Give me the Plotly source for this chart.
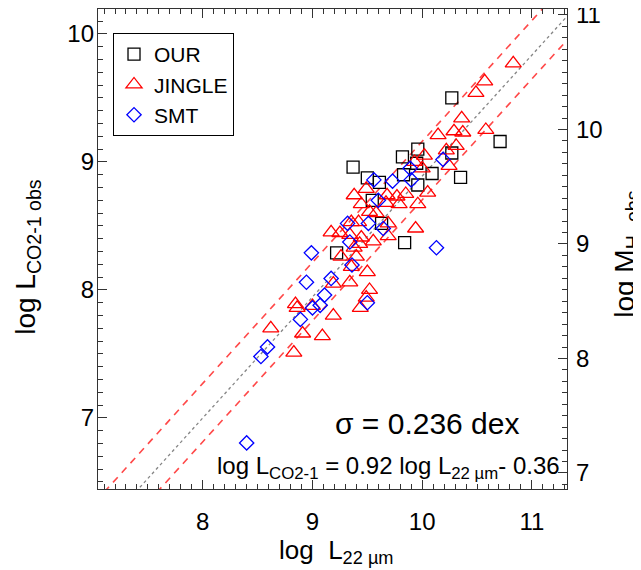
import plotly.graph_objects as go

# ---------------- data ----------------
our_x = [10.27, 10.71, 9.37, 9.82, 9.96, 10.27, 9.95, 9.50, 9.61, 9.83, 10.09, 10.35, 9.96, 9.545, 9.63, 9.84, 9.22]
our_y = [9.50, 9.16, 8.96, 9.04, 9.10, 9.07, 8.99, 8.875, 8.84, 8.90, 8.91, 8.88, 8.82, 8.70, 8.52, 8.37, 8.29]

jingle_x = [10.83, 10.57, 10.49, 10.36, 10.29, 10.37, 10.58, 10.145, 10.31, 10.22, 10.02, 9.93, 10.00, 10.245,
            9.49, 9.38, 9.68, 9.77, 9.85, 10.05, 9.445, 9.67, 9.79, 9.96, 9.52, 9.58, 9.354, 9.42, 9.69, 9.17,
            9.25, 9.34, 9.445, 9.554, 9.69, 9.94, 9.43, 9.38, 9.26, 9.40, 9.354, 9.50, 9.19, 9.34, 9.52, 9.49,
            8.845, 8.86, 9.00, 9.436, 9.19, 8.62, 8.91, 9.09, 8.83]
jingle_y = [9.77, 9.63, 9.54, 9.34, 9.24, 9.23, 9.25, 9.21, 9.125, 9.09, 9.05, 9.00, 8.95, 8.97,
            8.79, 8.74, 8.74, 8.73, 8.75, 8.76, 8.67, 8.68, 8.67, 8.67, 8.61, 8.60, 8.53, 8.53, 8.52, 8.45,
            8.445, 8.43, 8.41, 8.38, 8.42, 8.48, 8.36, 8.33, 8.26, 8.26, 8.18, 8.14, 8.05, 8.06, 8.00, 7.94,
            7.89, 7.86, 7.875, 7.86, 7.80, 7.70, 7.66, 7.64, 7.51]

smt_x = [10.19, 9.56, 9.73, 9.89, 9.90, 9.60, 9.32, 9.51, 9.645, 9.34, 10.13, 8.99, 9.36, 8.945, 9.17,
         9.11, 9.07, 9.00, 8.89, 9.50, 8.59, 8.53, 8.40]
smt_y = [9.02, 8.86, 8.85, 8.95, 8.86, 8.70, 8.52, 8.52, 8.48, 8.375, 8.33, 8.29, 8.195, 8.06, 8.09,
         7.96, 7.88, 7.86, 7.77, 7.90, 7.555, 7.48, 6.805]

# relation lines (as drawn)
fit_slope = 0.945
fit_icpt = -0.56
upper_icpt = -0.29
lower_icpt = -0.746
sigma = 0.236

x_range = [7.045, 11.32]
y_range = [6.445, 10.195]
y2_range = [6.86, 11.052]

FONT = "Liberation Sans, Arial, Helvetica, sans-serif"

fig = go.Figure()

line_x = [x_range[0] - 0.5, x_range[1] + 0.5]
for icpt, col, dash, w in [(fit_icpt, "rgba(120,120,120,0.9)", "dot", 1.3),
                           (upper_icpt, "rgba(255,40,40,0.85)", "7px,6px", 1.6),
                           (lower_icpt, "rgba(255,40,40,0.85)", "7px,6px", 1.6)]:
    fig.add_trace(go.Scatter(x=line_x, y=[fit_slope * v + icpt for v in line_x], mode="lines",
                             line=dict(color=col, dash=dash, width=w), showlegend=False, hoverinfo="skip"))

fig.add_trace(go.Scatter(x=our_x, y=our_y, mode="markers", name="OUR",
                         marker=dict(symbol="square-open", size=12, color="black", line=dict(width=1.3))))
fig.add_trace(go.Scatter(x=jingle_x, y=jingle_y, mode="markers", name="JINGLE",
                         marker=dict(symbol="triangle-up-open", size=14, color="red", line=dict(width=1.3))))
fig.add_trace(go.Scatter(x=smt_x, y=smt_y, mode="markers", name="SMT",
                         marker=dict(symbol="diamond-open", size=11, color="blue", line=dict(width=1.3))))
# dummy trace to activate right axis
fig.add_trace(go.Scatter(x=[None], y=[None], yaxis="y2", showlegend=False, hoverinfo="skip"))

axis_common = dict(showline=True, linecolor="#333", linewidth=1.3, ticks="inside", tickcolor="#333",
                   tickwidth=1.2, ticklen=9, showgrid=False, zeroline=False, automargin=False,
                   ticklabeloverflow="allow",
                   tickfont=dict(family=FONT, size=24, color="black"),
                   minor=dict(ticks="inside", ticklen=5, dtick=0.1, tickcolor="#333", tickwidth=1, showgrid=False))

# page body adds an 8px offset; margins compensate so the plot area lands where the reference has it
fig.update_layout(
    width=641, height=570,
    margin=dict(l=90, r=82, t=1, b=89),
    paper_bgcolor="white", plot_bgcolor="white",
    font=dict(family=FONT, color="black"),
    xaxis=dict(range=x_range, dtick=1, tick0=0, mirror="ticks", ticklabelstandoff=11, **axis_common),
    yaxis=dict(range=y_range, dtick=1, tick0=0, ticklabelstandoff=-2, **axis_common),
    yaxis2=dict(range=y2_range, dtick=1, tick0=0, overlaying="y", side="right", ticklabelstandoff=3,
                **axis_common),
    legend=dict(x=0.032, y=0.95, xanchor="left", yanchor="top", bordercolor="black", borderwidth=1,
                bgcolor="white", font=dict(family=FONT, size=21), tracegroupgap=0, entrywidth=88),
    showlegend=True,
)

# axis titles
fig.add_annotation(x=0.5075, y=-0.131, xref="paper", yref="paper", text="log  L<sub>22 µm</sub>",
                   showarrow=False, font=dict(size=26, family=FONT), xanchor="center", yanchor="middle")
fig.add_annotation(x=-0.15, y=0.483, xref="paper", yref="paper", text="log L<sub>CO2-1 obs</sub>",
                   textangle=-90, showarrow=False, font=dict(size=28, family=FONT),
                   xanchor="center", yanchor="middle")
fig.add_annotation(x=1.13, y=0.49, xref="paper", yref="paper", text="log M<sub>H<sub>2</sub> obs</sub>",
                   textangle=-90, showarrow=False, font=dict(size=28, family=FONT),
                   xanchor="center", yanchor="middle")

fig.add_annotation(x=10.045, y=6.96, xref="x", yref="y", text="σ = %.3f dex" % sigma, showarrow=False,
                   font=dict(size=30, family=FONT), xanchor="center", yanchor="middle")
fig.add_annotation(x=11.27, y=6.61, xref="x", yref="y",
                   text="log L<sub>CO2-1</sub> = 0.92 log L<sub>22 µm</sub>- 0.36", showarrow=False,
                   font=dict(size=24, family=FONT), xanchor="right", yanchor="middle")

fig.write_html("out.html")
